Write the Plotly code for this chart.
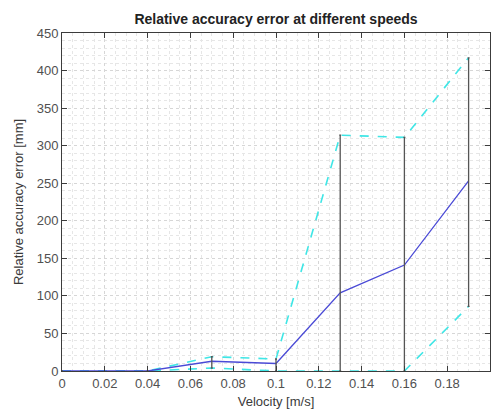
import plotly.graph_objects as go

velocity = [0.0, 0.04, 0.07, 0.10, 0.13, 0.16, 0.19]
mean_err = [0, 0, 13, 10, 104, 141, 253]
upper_err = [0, 0, 19, 16, 314, 311, 417]
lower_err = [0, 0, 4, 0, 0, 0, 86]

x_ticks = [0, 0.02, 0.04, 0.06, 0.08, 0.1, 0.12, 0.14, 0.16, 0.18, 0.2]
x_ticktext = ["0", "0.02", "0.04", "0.06", "0.08", "0.1", "0.12", "0.14", "0.16", "0.18", "0.2"]
y_ticks = [0, 50, 100, 150, 200, 250, 300, 350, 400, 450]

FONT = "Liberation Sans, Arial, sans-serif"
fig = go.Figure()

fig.add_trace(go.Scatter(x=velocity, y=upper_err, mode="lines",
                         line=dict(color="#3fe6e6", width=1.6, dash="dash"),
                         showlegend=False, hoverinfo="skip"))
fig.add_trace(go.Scatter(x=velocity, y=lower_err, mode="lines",
                         line=dict(color="#3fe6e6", width=1.6, dash="dash"),
                         showlegend=False, hoverinfo="skip"))
fig.add_trace(go.Scatter(x=velocity, y=mean_err, mode="lines",
                         line=dict(color="#4a4ad6", width=1.3),
                         showlegend=False))
# error bars (lower to upper bound)
fig.add_trace(go.Scatter(
    x=velocity, y=mean_err, mode="markers",
    marker=dict(size=1, color="rgba(0,0,0,0)"),
    error_y=dict(type="data", symmetric=False,
                 array=[u - m for u, m in zip(upper_err, mean_err)],
                 arrayminus=[m - l for m, l in zip(mean_err, lower_err)],
                 color="#555555", thickness=1.3, width=1),
    showlegend=False, hoverinfo="skip"))

axis_common = dict(
    showline=True, linecolor="#3c3c3c", linewidth=1, mirror="ticks",
    ticks="inside", ticklen=5, tickcolor="#3c3c3c",
    showgrid=True, gridcolor="#d6d6d6", griddash="dot", gridwidth=1,
    zeroline=False,
    tickfont=dict(family=FONT, size=13, color="#505050"),
)

fig.update_xaxes(range=[0, 0.2], tickvals=x_ticks, ticktext=x_ticktext,
                 minor=dict(dtick=0.005, showgrid=True, gridcolor="#e6e6e6", griddash="dot"),
                 title=dict(text="Velocity [m/s]", font=dict(family=FONT, size=13, color="#3a3a3a"),
                            standoff=10),
                 automargin=False, **axis_common)
fig.update_yaxes(range=[0, 450], tickvals=y_ticks,
                 minor=dict(dtick=10, showgrid=True, gridcolor="#e6e6e6", griddash="dot"),
                 title=dict(text="Relative accuracy error [mm]", font=dict(family=FONT, size=13, color="#3a3a3a"),
                            standoff=10),
                 automargin=False, **axis_common)

fig.update_layout(
    width=498, height=409,
    margin=dict(l=62, r=8, t=33, b=38),
    paper_bgcolor="white", plot_bgcolor="white",
    title=dict(text="<b>Relative accuracy error at different speeds</b>",
               x=(62 + 490) / 2 / 498, xanchor="center", y=1 - 19 / 409, yanchor="middle",
               font=dict(family=FONT, size=14, color="#222222")),
)

fig.write_html("out.html")
